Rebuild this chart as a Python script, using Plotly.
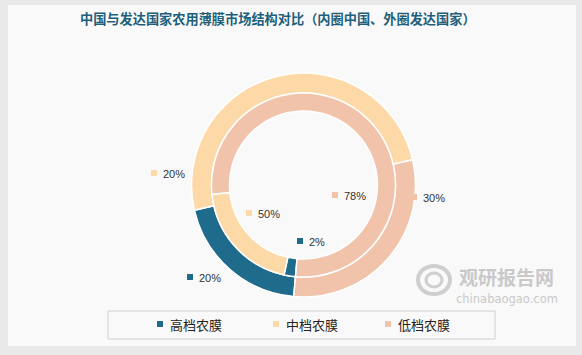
import plotly.graph_objects as go

categories = ["高档农膜", "中档农膜", "低档农膜"]
china_share = [2, 20, 78]          # inner ring
developed_share = [20, 50, 30]     # outer ring
label_values = [20, 50, 78, 30, 2, 20]   # data labels as printed on the chart
colors = ["#1f6b8b", "#fdd9a8", "#f1c3ab"]
title_text = "中国与发达国家农用薄膜市场结构对比（内圈中国、外圈发达国家）"

W, H = 582, 355

def px(x):
    return x / W

def py(y):
    return 1 - y / H

cx, cy = 303.5, 185
r_out, r_mid, r_in = 112, 92, 74

fig = go.Figure()
fig.add_trace(go.Pie(
    labels=categories, values=developed_share, sort=False, direction="clockwise",
    rotation=185, hole=r_mid / r_out, textinfo="none", hoverinfo="label+percent",
    marker=dict(colors=colors, line=dict(color="white", width=1.5)),
    domain=dict(x=[px(cx - r_out), px(cx + r_out)], y=[py(cy + r_out), py(cy - r_out)]),
    showlegend=False, name="发达国家",
))
fig.add_trace(go.Pie(
    labels=categories, values=china_share, sort=False, direction="clockwise",
    rotation=185, hole=r_in / r_mid, textinfo="none", hoverinfo="label+percent",
    marker=dict(colors=colors, line=dict(color="white", width=1.5)),
    domain=dict(x=[px(cx - r_mid), px(cx + r_mid)], y=[py(cy + r_mid), py(cy - r_mid)]),
    showlegend=False, name="中国",
))

shapes = []
annotations = []

# panel
shapes.append(dict(type="rect", xref="paper", yref="paper",
                   x0=px(8), x1=px(576), y0=py(346), y1=py(5),
                   fillcolor="#f9f9f9", line=dict(width=0), layer="below"))

# data labels: (category index, marker x, y)
label_pos = [
    (1, 154, 173),
    (1, 249, 213),
    (2, 335, 195),
    (2, 414, 197),
    (0, 300, 241),
    (0, 190, 277),
]
for (ci, mx, my), val in zip(label_pos, label_values):
    shapes.append(dict(type="rect", xref="paper", yref="paper",
                       x0=px(mx - 3), x1=px(mx + 3), y0=py(my + 3), y1=py(my - 3),
                       fillcolor=colors[ci], line=dict(width=0)))
    annotations.append(dict(xref="paper", yref="paper", x=px(mx + 7), y=py(my + 1),
                            xanchor="left", yanchor="middle", showarrow=False,
                            text=f"{val}%", font=dict(family="Liberation Sans, Arial", size=11, color="#333333")))

# title
annotations.append(dict(xref="paper", yref="paper", x=px(278), y=py(18),
                        xanchor="center", yanchor="middle", showarrow=False,
                        text=f"<b>{title_text}</b>",
                        font=dict(family="Noto Sans CJK SC", size=13.2, color="#1d5f7c")))

# legend box
shapes.append(dict(type="rect", xref="paper", yref="paper",
                   x0=px(108), x1=px(495), y0=py(339), y1=py(311),
                   fillcolor="rgba(0,0,0,0)", line=dict(color="#d0d0d0", width=1)))
leg_x = [160, 276, 388]
for i, name in enumerate(categories):
    mx = leg_x[i]
    shapes.append(dict(type="rect", xref="paper", yref="paper",
                       x0=px(mx - 3), x1=px(mx + 3), y0=py(327), y1=py(321),
                       fillcolor=colors[i], line=dict(width=0)))
    annotations.append(dict(xref="paper", yref="paper", x=px(mx + 8), y=py(324),
                            xanchor="left", yanchor="middle", showarrow=False,
                            text=name, font=dict(family="Noto Sans CJK SC", size=13, color="#222222")))

# watermark
annotations.append(dict(xref="paper", yref="paper", x=px(458), y=py(291),
                        xanchor="left", yanchor="bottom", showarrow=False, borderpad=0,
                        text="<b>观研报告网</b>",
                        font=dict(family="Noto Sans CJK SC", size=19, color="#c9c9c9")))
annotations.append(dict(xref="paper", yref="paper", x=px(455), y=py(291),
                        xanchor="left", yanchor="top", showarrow=False, borderpad=0,
                        text="chinabaogao.com",
                        font=dict(family="DejaVu Sans", size=11.5, color="#c9c9c9")))
shapes.append(dict(type="circle", xref="paper", yref="paper",
                   x0=px(418), x1=px(450), y0=py(294), y1=py(266),
                   fillcolor="rgba(0,0,0,0)", line=dict(color="#cfcfcf", width=4)))
shapes.append(dict(type="circle", xref="paper", yref="paper",
                   x0=px(426), x1=px(442), y0=py(287), y1=py(273),
                   fillcolor="rgba(0,0,0,0)", line=dict(color="#cfcfcf", width=3)))

fig.update_layout(
    width=W, height=H, margin=dict(l=0, r=0, t=0, b=0),
    paper_bgcolor="#e9e9e9", plot_bgcolor="#e9e9e9",
    shapes=shapes, annotations=annotations, showlegend=False,
)

fig.write_html("out.html", config={"displayModeBar": False},
               post_script="document.body.style.margin='0';document.body.style.padding='0';")
